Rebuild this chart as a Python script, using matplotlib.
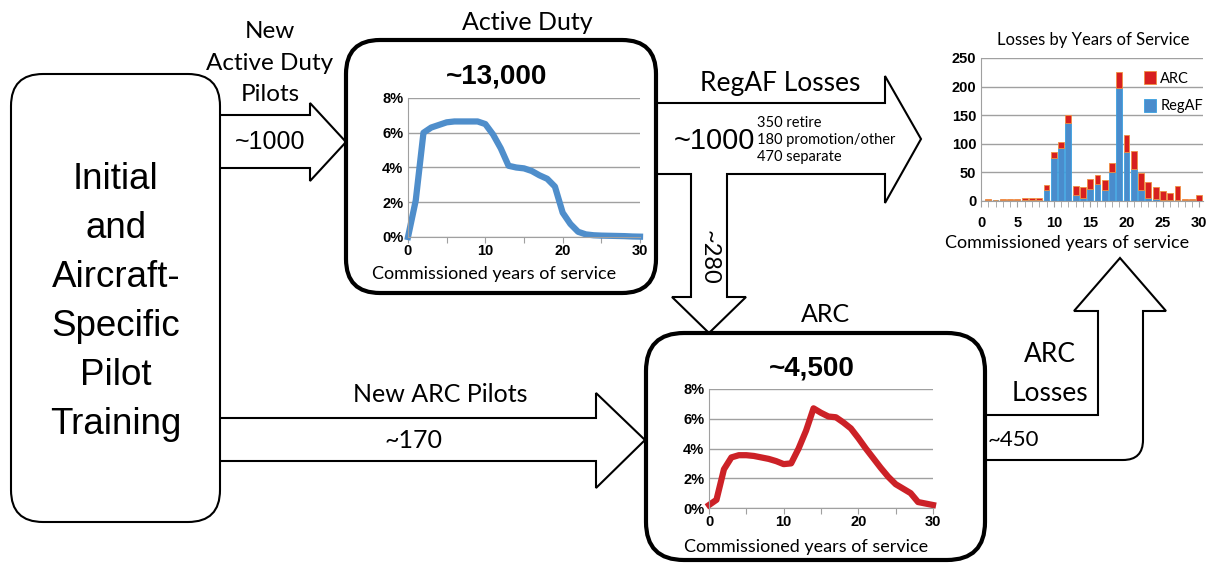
import matplotlib.pyplot as plt
import numpy as np
from matplotlib.patches import FancyBboxPatch, Polygon, PathPatch
from matplotlib.path import Path

# --- data ---
years = np.arange(0, 31)
active_pct = [0.0, 2.1, 6.0, 6.3, 6.45, 6.6, 6.65, 6.65, 6.65, 6.65, 6.5,
              5.9, 5.1, 4.1, 4.0, 3.95, 3.8, 3.55, 3.35, 2.9, 1.4,
              0.75, 0.3, 0.15, 0.1, 0.08, 0.07, 0.06, 0.05, 0.03, 0.02]
arc_pct = [0.2, 0.55, 2.6, 3.4, 3.55, 3.55, 3.5, 3.4, 3.3, 3.15, 2.95,
           3.0, 4.0, 5.2, 6.7, 6.4, 6.15, 6.1, 5.75, 5.35, 4.7,
           4.0, 3.35, 2.7, 2.1, 1.6, 1.3, 1.0, 0.4, 0.3, 0.2]

loss_years = np.arange(1, 31)
regaf_loss = [1, 1, 1, 1, 2, 2, 2, 2, 20, 75, 93, 136, 10, 5, 21, 29, 20, 50,
              197, 86, 56, 20, 5, 4, 1, 1, 2, 1, 1, 0]
arc_loss = [2, 1, 2, 2, 2, 3, 3, 3, 8, 10, 11, 14, 17, 20, 17, 16, 17, 16,
            28, 29, 32, 29, 28, 21, 16, 13, 25, 3, 3, 10]

W, H = 1217, 567
BLUE = '#4f8ecb'
RED = '#cc2127'
CAL = ['Lato', 'DejaVu Sans']
ARI = ['Liberation Sans', 'DejaVu Sans']

fig = plt.figure(figsize=(W / 100, H / 100), dpi=100)
ax = fig.add_axes([0, 0, 1, 1])
ax.set_xlim(0, W)
ax.set_ylim(H, 0)
ax.set_axis_off()


def box(x0, y0, x1, y1, r, lw):
    p = FancyBboxPatch((x0 + r, y0 + r), x1 - x0 - 2 * r, y1 - y0 - 2 * r,
                       boxstyle=f'round,pad={r},rounding_size={r}',
                       fc='white', ec='black', lw=lw, zorder=3)
    ax.add_patch(p)


def arrow(pts):
    ax.add_patch(Polygon(pts, closed=False, fc='white', ec='black',
                         lw=1.5, zorder=2, joinstyle='miter'))


# arrows
arrow([(220, 115), (310, 115), (310, 103), (346, 142), (310, 181),
       (310, 168), (220, 168)])
arrow([(220, 418), (596, 418), (596, 393), (645, 440), (596, 488),
       (596, 461), (220, 461)])
arrow([(655, 103), (885, 103), (885, 76), (921, 139), (885, 203),
       (885, 174), (727, 174), (727, 297), (746, 297), (709, 333),
       (672, 297), (691, 297), (691, 174), (655, 174)])

# ARC losses L-arrow with rounded corner
verts = [(985, 415), (1098, 415), (1098, 311), (1074, 311), (1120, 258),
         (1166, 311), (1143, 311), (1143, 440), (1143, 460), (1123, 460),
         (985, 460)]
codes = [Path.MOVETO] + [Path.LINETO] * 7 + [Path.CURVE3, Path.CURVE3,
                                              Path.LINETO]
ax.add_patch(PathPatch(Path(verts, codes), fc='white', ec='black', lw=1.5,
                       zorder=2))

# boxes
box(11, 74, 220, 522, 32, 1.5)
box(346, 40, 656, 293, 34, 3)
box(646, 333, 985, 560, 38, 3)

# labels
ax.text(116, 302, 'Initial\nand\nAircraft-\nSpecific\nPilot\nTraining',
        ha='center', va='center', fontsize=26.5, family=ARI,
        linespacing=1.52, zorder=5)
ax.text(270, 63, 'New\nActive Duty\nPilots', ha='center', va='center',
        fontsize=17.5, family=CAL, linespacing=1.64, zorder=5)
ax.text(270, 142, '~1000', ha='center', va='center', fontsize=18,
        family=ARI, zorder=5)
ax.text(527, 22, 'Active Duty', ha='center', va='center', fontsize=18,
        family=CAL, zorder=5)
ax.text(497, 76, '~13,000', ha='center', va='center', fontsize=20,
        family=ARI, weight='bold', zorder=5)
ax.text(780, 84, 'RegAF Losses', ha='center', va='center', fontsize=19,
        family=CAL, zorder=5)
ax.text(714, 141, '~1000', ha='center', va='center', fontsize=21,
        family=ARI, zorder=5)
ax.text(757, 140, '350 retire\n180 promotion/other\n470 separate',
        ha='left', va='center', fontsize=10.5, family=CAL,
        linespacing=1.25, zorder=5)
ax.text(709, 257, '~280', ha='center', va='center', fontsize=17,
        family=CAL, rotation=-90, zorder=5)
ax.text(825, 315, 'ARC', ha='center', va='center', fontsize=18,
        family=CAL, zorder=5)
ax.text(812, 368, '~4,500', ha='center', va='center', fontsize=20,
        family=ARI, weight='bold', zorder=5)
ax.text(440, 394, 'New ARC Pilots', ha='center', va='center', fontsize=18,
        family=CAL, zorder=5)
ax.text(414, 440, '~170', ha='center', va='center', fontsize=18,
        family=CAL, zorder=5)
ax.text(1050, 374, 'ARC\nLosses', ha='center', va='center', fontsize=19,
        family=CAL, linespacing=1.66, zorder=5)
ax.text(988, 440, '~450', ha='left', va='center', fontsize=16,
        family=CAL, zorder=5)
ax.text(1093, 40, 'Losses by Years of Service', ha='center', va='center',
        fontsize=12, family=CAL, zorder=5)


def inset(x0, y0, x1, y1):
    a = fig.add_axes([x0 / W, 1 - y1 / H, (x1 - x0) / W, (y1 - y0) / H])
    a.set_zorder(6)
    a.patch.set_alpha(0)
    for s in ['top', 'right']:
        a.spines[s].set_visible(False)
    for s in ['left', 'bottom']:
        a.spines[s].set_color('#a0a0a0')
    a.tick_params(colors='#a0a0a0', labelcolor='black', length=4,
                  direction='out')
    return a


def bold_ticks(a):
    for lab in a.get_xticklabels() + a.get_yticklabels():
        lab.set_fontfamily('Liberation Sans')
        lab.set_fontweight('bold')
        lab.set_fontsize(10.5)


def pct_chart(x0, y0, x1, y1, vals, color, xlab_x, xlab_y):
    a = inset(x0, y0, x1, y1)
    a.plot(years, vals, color=color, lw=4.5, solid_joinstyle='round',
           clip_on=False)
    a.set_xlim(0, 30)
    a.set_ylim(0, 8)
    a.set_yticks([0, 2, 4, 6, 8])
    a.set_yticklabels(['0%', '2%', '4%', '6%', '8%'])
    a.set_xticks(range(0, 31, 5))
    a.set_xticklabels(['0', '', '10', '', '20', '', '30'])
    a.tick_params(axis='y', length=0)
    a.tick_params(axis='x', pad=1)
    a.grid(axis='y', color='#a0a0a0', lw=1)
    a.set_axisbelow(True)
    bold_ticks(a)
    ax.text(xlab_x, xlab_y, 'Commissioned years of service',
            ha='center', va='center', fontsize=13, family=CAL, zorder=5)


pct_chart(408, 98, 640, 237, active_pct, BLUE, 494, 274)
pct_chart(709, 389, 933, 508, arc_pct, RED, 806, 547)

# bar chart
b = inset(981, 58, 1203, 201)
b.bar(loss_years, regaf_loss, width=0.8, color='#4a8ccc', edgecolor='#3aa0e0',
      lw=0.6, label='RegAF')
b.bar(loss_years, arc_loss, bottom=regaf_loss, width=0.8, color='#d71f1f',
      edgecolor='#f09040', lw=0.6, label='ARC')
b.set_xlim(0, 30.5)
b.set_ylim(0, 250)
b.set_yticks(range(0, 251, 50))
b.set_xticks(range(0, 31, 5))
b.set_xticks(range(0, 31), minor=True)
b.tick_params(axis='x', which='minor', length=4, colors='#a0a0a0')
b.tick_params(axis='x', pad=7)
b.tick_params(axis='y', length=0)
b.grid(axis='y', color='#a0a0a0', lw=1)
b.set_axisbelow(True)
bold_ticks(b)
h, l = b.get_legend_handles_labels()
b.legend(h[::-1], l[::-1], loc='upper right', bbox_to_anchor=(1.06, 1.0),
         frameon=False, prop={'family': CAL, 'size': 10.5}, handlelength=0.8,
         handleheight=1.0, handletextpad=0.3, labelspacing=0.9)
ax.text(1067, 243, 'Commissioned years of service', ha='center',
        va='center', fontsize=13, family=CAL, zorder=5)

fig.savefig('out.png', dpi=100)
